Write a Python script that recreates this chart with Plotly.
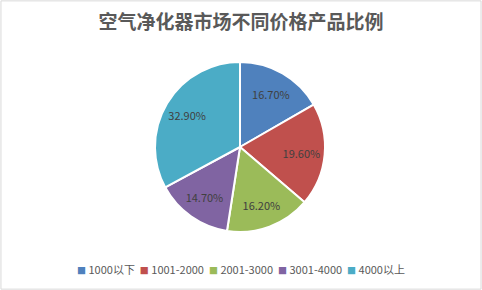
import plotly.graph_objects as go

categories = ["1000以下", "1001-2000", "2001-3000", "3001-4000", "4000以上"]
values = [16.7, 19.6, 16.2, 14.7, 32.9]
labels_text = ["16.70%", "19.60%", "16.20%", "14.70%", "32.90%"]
colors = ["#4F81BD", "#C0504D", "#9BBB59", "#8064A2", "#4BACC6"]

W, H = 482, 290
cx, cy, r = 240, 147, 85
dom = dict(x=[(cx - r) / W, (cx + r) / W], y=[1 - (cy + r) / H, 1 - (cy - r) / H])

fig = go.Figure()
fig.add_trace(go.Pie(
    labels=categories,
    values=values,
    textinfo="none",
    marker=dict(colors=colors, line=dict(color="white", width=2)),
    sort=False,
    direction="clockwise",
    rotation=0,
    hoverinfo="label+percent",
    domain=dom,
    showlegend=False,
))
# transparent ring used only to place the value labels further out, like Excel
fig.add_trace(go.Pie(
    labels=categories,
    values=values,
    text=labels_text,
    textinfo="text",
    textposition="inside",
    insidetextorientation="horizontal",
    textfont=dict(family="Noto Sans CJK SC, Noto Sans", size=11, color="#404040"),
    marker=dict(colors=["rgba(0,0,0,0)"] * len(values), line=dict(width=0)),
    hole=0.45,
    sort=False,
    direction="clockwise",
    rotation=0,
    hoverinfo="skip",
    domain=dom,
    showlegend=False,
))

legend_text = "  ".join(
    f"<span style='color:{c};font-size:9px'>■</span> {cat}" for c, cat in zip(colors, categories)
)

fig.update_layout(
    width=W, height=H,
    margin=dict(l=0, r=0, t=0, b=0),
    paper_bgcolor="white",
    plot_bgcolor="white",
    title=dict(text="<b>空气净化器市场不同价格产品比例</b>", x=0.5, xanchor="center",
               y=1 - 22 / H, yanchor="middle",
               font=dict(family="Noto Sans CJK SC", size=19, color="#595959")),
    annotations=[dict(text=legend_text, xref="paper", yref="paper", x=240.5 / W, y=1 - 269 / H,
                      xanchor="center", yanchor="middle", showarrow=False,
                      font=dict(family="Noto Sans CJK SC, Noto Sans", size=11, color="#595959"))],
    shapes=[dict(type="rect", xref="paper", yref="paper", x0=0.002, y0=0.003, x1=0.998, y1=0.997,
                 line=dict(color="#D9D9D9", width=1))],
)

fig.write_html("out.html")
